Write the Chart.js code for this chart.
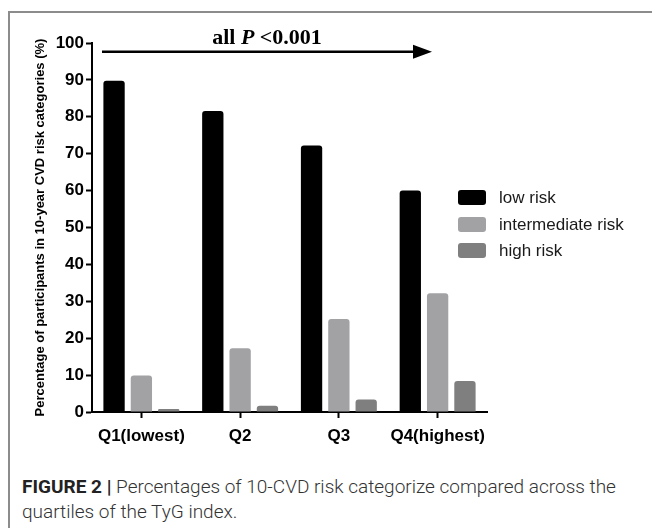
<!DOCTYPE html>
<html>
<head>
<meta charset="utf-8">
<title>TyG quartiles and 10-year CVD risk</title>
<script src="https://cdn.jsdelivr.net/npm/chart.js@4/dist/chart.umd.min.js"></script>
<style>
    html, body {
        margin: 0;
        padding: 0;
        background: #fff;
        width: 652px;
        height: 528px;
        overflow: hidden;
        font-family: "Liberation Sans", Arial, sans-serif;
    }
    .frame {
        position: absolute;
        left: 8px;
        top: 11px;
        width: 700px;
        height: 600px;
        border-left: 2px solid #8c8c8c;
        border-top: 2px solid #8c8c8c;
    }
    .chart-box {
        position: absolute;
        left: 0;
        top: 0;
        width: 652px;
        height: 460px;
    }
    .legend {
        position: absolute;
        left: 458px;
        top: 190px;
        list-style: none;
        margin: 0;
        padding: 0;
    }
    .legend li {
        height: 26.5px;
        display: flex;
        align-items: flex-start;
        font-size: 17px;
        color: #1a1a1a;
        line-height: 16px;
    }
    .legend .swatch {
        display: inline-block;
        width: 28px;
        height: 15px;
        border-radius: 3px;
        margin-right: 13px;
    }
    .caption {
        position: absolute;
        left: 22px;
        top: 474px;
        width: 612px;
        font-family: Roboto, "Liberation Sans", sans-serif;
        font-weight: 300;
        font-size: 19px;
        line-height: 25px;
        color: #333;
    }
    .caption b {
        font-weight: 700;
        color: #222;
    }
</style>
</head>
<body>
<div class="frame"></div>
<div class="chart-box"><canvas id="risk-chart" width="652" height="460"></canvas></div>
<ul class="legend" id="risk-legend"></ul>
<div class="caption"><b>FIGURE 2 |</b> Percentages of 10-CVD risk categorize compared across the quartiles of the TyG index.</div>

<script>
const categories = ['Q1(lowest)', 'Q2', 'Q3', 'Q4(highest)'];
const seriesLabels = ['low risk', 'intermediate risk', 'high risk'];
const lowRisk = [89.8, 81.6, 72.2, 60.0];
const intermediateRisk = [9.9, 17.3, 25.2, 32.2];
const highRisk = [0.8, 1.7, 3.4, 8.4];
const yMin = 0;
const yMax = 100;
const yStep = 10;
const pLabel = ['all ', 'P', ' <0.001'];
const arrowValue = 97.6;

document.addEventListener('DOMContentLoaded', function () {
    const ctx = document.getElementById('risk-chart').getContext('2d');
    const legendList = document.getElementById('risk-legend');
    const colors = ['#000000', '#a2a2a5', '#7f7f7f'];
    const values = [lowRisk, intermediateRisk, highRisk];

    // arrow + "all P <0.001" across the top of the plot
    const pValueArrow = {
        id: 'pValueArrow',
        afterDraw(chart) {
            const c = chart.ctx;
            const area = chart.chartArea;
            const yScale = chart.scales.y;
            const y = yScale.getPixelForValue(arrowValue);
            const x0 = area.left + 10;
            const x1 = area.right - 55;

            c.save();
            c.strokeStyle = '#000';
            c.fillStyle = '#000';
            c.lineWidth = 2.5;
            c.beginPath();
            c.moveTo(x0, y);
            c.lineTo(x1 - 15, y);
            c.stroke();
            c.beginPath();
            c.moveTo(x1, y);
            c.lineTo(x1 - 19, y - 7);
            c.lineTo(x1 - 19, y + 7);
            c.closePath();
            c.fill();

            const fonts = [
                'bold 22px "Liberation Serif", "Times New Roman", serif',
                'italic bold 22px "Liberation Serif", "Times New Roman", serif',
                'bold 22px "Liberation Serif", "Times New Roman", serif'
            ];
            let total = 0;
            const widths = pLabel.map((part, i) => {
                c.font = fonts[i];
                const w = c.measureText(part).width;
                total += w;
                return w;
            });
            let x = (x0 + x1) / 2 - total / 2;
            const baseline = yScale.getPixelForValue(yMax) + 1;
            c.textBaseline = 'alphabetic';
            c.textAlign = 'left';
            pLabel.forEach((part, i) => {
                c.font = fonts[i];
                c.fillText(part, x, baseline);
                x += widths[i];
            });
            c.restore();
        }
    };

    const riskChart = new Chart(ctx, {
        type: 'bar',
        data: {
            labels: categories,
            datasets: seriesLabels.map((label, i) => ({
                label: label,
                data: values[i],
                backgroundColor: colors[i],
                borderWidth: 0,
                borderRadius: { topLeft: 3, topRight: 3 },
                borderSkipped: 'start',
                barPercentage: 0.78,
                categoryPercentage: 0.83
            }))
        },
        options: {
            responsive: false,
            animation: false,
            layout: {
                padding: { left: 20, top: 43, right: 165, bottom: 8 }
            },
            scales: {
                x: {
                    afterFit(scale) {
                        scale.height = 40;
                    },
                    grid: {
                        offset: false,
                        drawOnChartArea: false,
                        tickLength: 6,
                        tickWidth: 2,
                        tickColor: '#000'
                    },
                    border: {
                        color: '#000',
                        width: 2
                    },
                    ticks: {
                        color: '#000',
                        padding: 8,
                        autoSkip: false,
                        maxRotation: 0,
                        minRotation: 0,
                        font: { family: '"Liberation Sans", Arial', size: 17, weight: 'bold' }
                    }
                },
                y: {
                    min: yMin,
                    max: yMax,
                    afterFit(scale) {
                        scale.width = 72;
                    },
                    grid: {
                        drawOnChartArea: false,
                        tickLength: 6,
                        tickWidth: 2,
                        tickColor: '#000'
                    },
                    border: {
                        color: '#000',
                        width: 2
                    },
                    ticks: {
                        stepSize: yStep,
                        color: '#000',
                        padding: 2,
                        font: { family: '"Liberation Sans", Arial', size: 17, weight: 'bold' }
                    },
                    title: {
                        display: true,
                        text: 'Percentage of participants in 10-year CVD risk categories (%)',
                        color: '#000',
                        padding: { top: 13, bottom: 0 },
                        font: { family: '"Liberation Sans", Arial', size: 13, weight: 'bold' }
                    }
                }
            },
            plugins: {
                legend: { display: false },
                tooltip: { enabled: false }
            }
        },
        plugins: [pValueArrow]
    });

    riskChart.data.datasets.forEach(ds => {
        const item = document.createElement('li');
        const swatch = document.createElement('span');
        swatch.className = 'swatch';
        swatch.style.background = ds.backgroundColor;
        item.appendChild(swatch);
        item.appendChild(document.createTextNode(ds.label));
        legendList.appendChild(item);
    });
});
</script>
</body>
</html>
